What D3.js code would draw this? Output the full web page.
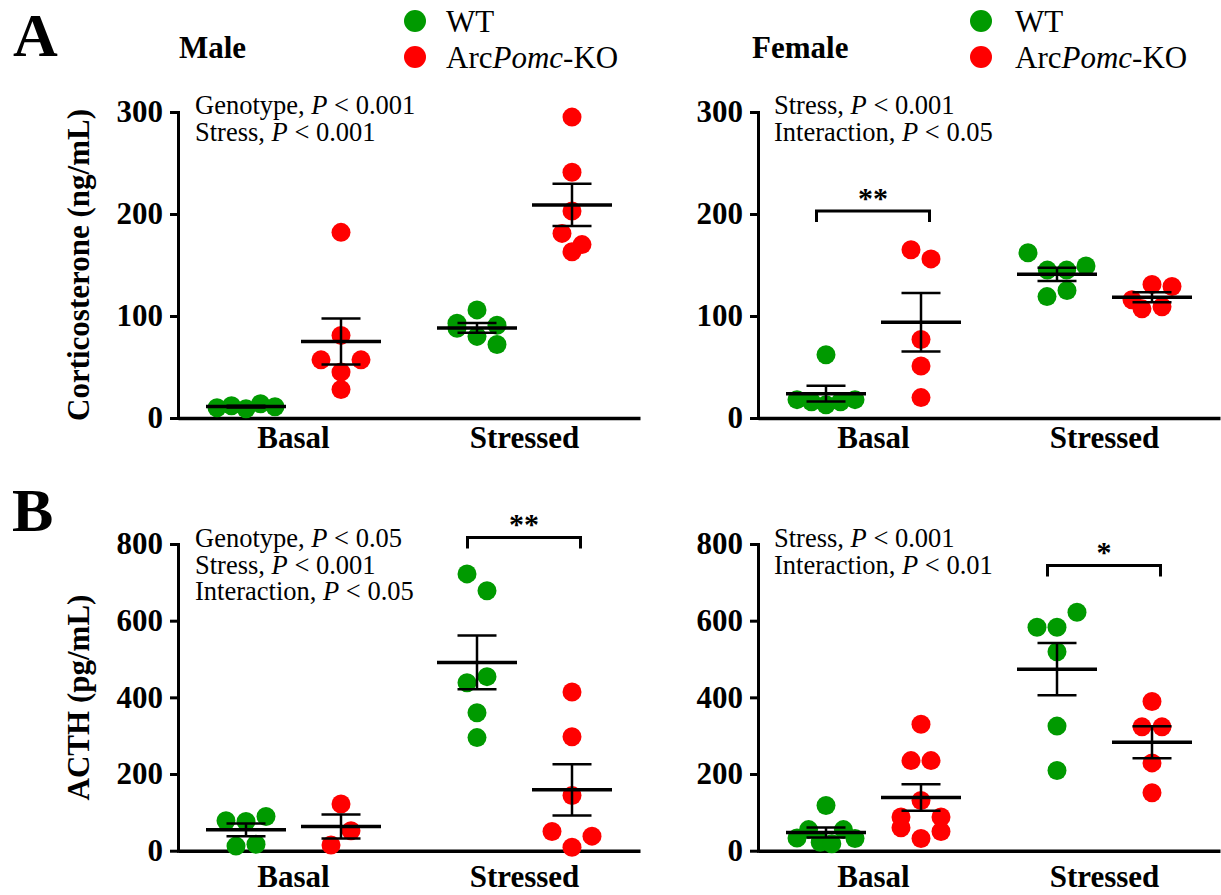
<!DOCTYPE html>
<html>
<head>
<meta charset="utf-8">
<script src="https://cdn.jsdelivr.net/npm/d3@7"></script>
<style>
  body { margin: 0; background: #fff; }
  svg { display: block; font-family: "Liberation Serif", "Times New Roman", serif; }
</style>
</head>
<body>
<div id="chart"></div>
<script>
// groups on the x axis
const categories = ['Basal', 'Stressed'];
const genotypes = ['WT', 'KO'];

// corticosterone (ng/mL), [basal, stressed]
const cortMaleWT = [[10, 12, 9, 14, 11], [93, 88, 106, 80, 91, 72]];
const cortMaleKO = [[182, 81, 57, 45, 57, 28], [295, 241, 203, 181, 163, 170]];
const cortFemaleWT = [[62, 18, 16, 13, 16, 18], [162, 145, 145, 149, 119, 125]];
const cortFemaleKO = [[165, 156, 77, 51, 20], [116, 131, 129, 107, 109]];

// ACTH (pg/mL), [basal, stressed]
const acthMaleWT = [[78, 76, 89, 12, 17], [722, 678, 438, 454, 360, 295]];
const acthMaleKO = [[122, 15, 52], [414, 297, 144, 50, 9, 38]];
const acthFemaleWT = [[118, 33, 55, 22, 18, 55, 32], [583, 583, 622, 519, 325, 209]];
const acthFemaleKO = [[330, 235, 235, 88, 131, 88, 60, 32, 50], [389, 323, 323, 229, 151]];

// axis ticks
const cortTicks = [0, 100, 200, 300];
const acthTicks = [0, 200, 400, 600, 800];

// two-way ANOVA notes: [effect, p threshold]
const notesCortMale = [['Genotype', '0.001'], ['Stress', '0.001']];
const notesCortFemale = [['Stress', '0.001'], ['Interaction', '0.05']];
const notesActhMale = [['Genotype', '0.05'], ['Stress', '0.001'], ['Interaction', '0.05']];
const notesActhFemale = [['Stress', '0.001'], ['Interaction', '0.01']];

// post-hoc brackets: [category, value, label]
const bracketCortFemale = [['Basal', 203, '**']];
const bracketActhMale = [['Stressed', 817, '**']];
const bracketActhFemale = [['Stressed', 744, '*']];

const colors = { WT: '#009a00', KO: '#ff0000' };
const R = 9.5;

const svg = d3.select('#chart').append('svg')
  .attr('width', 1221)
  .attr('height', 895);

const panels = [
  { wt: cortMaleWT, ko: cortMaleKO, ticks: cortTicks, x0: 178, x1: 640, top: 112, bot: 418, gap: 8, notes: notesCortMale, noteX: 195, noteY: 114, brackets: [] },
  { wt: cortFemaleWT, ko: cortFemaleKO, ticks: cortTicks, x0: 758, x1: 1220, top: 112, bot: 418, gap: 8, notes: notesCortFemale, noteX: 774, noteY: 114, brackets: bracketCortFemale },
  { wt: acthMaleWT, ko: acthMaleKO, ticks: acthTicks, x0: 178, x1: 640, top: 544, bot: 850.7, gap: 14, notes: notesActhMale, noteX: 195, noteY: 547, brackets: bracketActhMale },
  { wt: acthFemaleWT, ko: acthFemaleKO, ticks: acthTicks, x0: 758, x1: 1220, top: 544, bot: 850.7, gap: 14, notes: notesActhFemale, noteX: 774, noteY: 547, brackets: bracketActhFemale }
];

// spread points of one column into rows (Prism-like scatter)
const swarm = (vals, y, cx) => {
  const order = d3.range(vals.length).sort((a, b) => vals[b] - vals[a]);
  const rows = [];
  let cur = null;
  order.forEach(i => {
    const py = y(vals[i]);
    if (cur && py - cur.y0 < 18) cur.items.push(i);
    else { cur = { y0: py, items: [i] }; rows.push(cur); }
  });
  const out = [];
  rows.forEach(r => {
    r.items.sort((a, b) => a - b);
    const n = r.items.length;
    const s = n > 1 ? Math.min(20, 58 / (n - 1)) : 0;
    r.items.forEach((i, k) => out.push({ x: cx + (k - (n - 1) / 2) * s, y: y(vals[i]) }));
  });
  return out;
};

const sem = v => d3.deviation(v) / Math.sqrt(v.length);

panels.forEach(p => {
  const x = d3.scaleBand().domain(categories).range([p.x0, p.x1]).padding(0);
  const off = d3.scalePoint().domain(genotypes).range([-47.5, 47.5]);
  const y = d3.scaleLinear().domain([0, d3.max(p.ticks)]).range([p.bot, p.top]);
  const g = svg.append('g');

  // y axis
  const ya = g.append('g')
    .attr('transform', `translate(${p.x0},0)`)
    .call(d3.axisLeft(y).tickValues(p.ticks).tickSize(8).tickPadding(7).tickSizeOuter(0).tickFormat(d3.format('d')))
    .attr('font-family', null)
    .attr('font-size', 31)
    .attr('font-weight', 'bold');
  ya.select('.domain').attr('stroke-width', 3).attr('stroke-linecap', 'square');
  ya.selectAll('.tick line').attr('stroke-width', 3);

  // x axis
  const xa = g.append('g')
    .attr('transform', `translate(0,${p.bot})`)
    .call(d3.axisBottom(x).tickSize(0).tickPadding(p.gap).tickSizeOuter(0))
    .attr('font-family', null)
    .attr('font-size', 31)
    .attr('font-weight', 'bold');
  xa.select('.domain').attr('stroke-width', 3.5);

  categories.forEach((c, ci) => {
    [['WT', p.wt[ci]], ['KO', p.ko[ci]]].forEach(([geno, vals]) => {
      const cx = x(c) + x.bandwidth() / 2 + off(geno);
      g.append('g').selectAll('circle')
        .data(swarm(vals, y, cx))
        .join('circle')
        .attr('cx', d => d.x)
        .attr('cy', d => d.y)
        .attr('r', R)
        .attr('fill', colors[geno]);

      const m = d3.mean(vals), e = sem(vals);
      const bars = g.append('g').attr('stroke', '#000');
      bars.append('line')
        .attr('x1', cx - 40).attr('x2', cx + 40)
        .attr('y1', y(m)).attr('y2', y(m))
        .attr('stroke-width', 3.5);
      bars.append('line')
        .attr('x1', cx).attr('x2', cx)
        .attr('y1', y(m + e)).attr('y2', y(m - e))
        .attr('stroke-width', 2.5);
      [m + e, m - e].forEach(v => bars.append('line')
        .attr('x1', cx - 19.5).attr('x2', cx + 19.5)
        .attr('y1', y(v)).attr('y2', y(v))
        .attr('stroke-width', 2.5));
    });
  });

  // significance brackets
  p.brackets.forEach(([c, v, label]) => {
    const cx = x(c) + x.bandwidth() / 2;
    const xl = cx + off('WT') - 9.5, xr = cx + off('KO') + 8.5, yy = y(v);
    g.append('path')
      .attr('d', `M${xl},${yy + 11}V${yy}H${xr}V${yy + 11}`)
      .attr('fill', 'none')
      .attr('stroke', '#000')
      .attr('stroke-width', 3);
    g.append('text')
      .attr('x', (xl + xr) / 2)
      .attr('y', yy - 3)
      .attr('text-anchor', 'middle')
      .attr('font-size', 30)
      .attr('font-weight', 'bold')
      .text(label);
  });

  // ANOVA notes
  p.notes.forEach(([eff, pv], i) => {
    const t = g.append('text')
      .attr('x', p.noteX)
      .attr('y', p.noteY + i * 26.5)
      .attr('font-size', 26.5);
    t.append('tspan').text(`${eff}, `);
    t.append('tspan').attr('font-style', 'italic').text('P');
    t.append('tspan').text(` < ${pv}`);
  });
});

// y axis titles
[['Corticosterone (ng/mL)', 265], ['ACTH (pg/mL)', 697.5]].forEach(([t, cy]) => {
  svg.append('text')
    .attr('transform', `translate(89,${cy}) rotate(-90)`)
    .attr('text-anchor', 'middle')
    .attr('font-size', 31)
    .attr('font-weight', 'bold')
    .text(t);
});

// panel letters and sex titles
[['A', 13, 56], ['B', 12, 531]].forEach(([t, lx, ly]) => {
  svg.append('text').attr('x', lx).attr('y', ly)
    .attr('font-size', 62).attr('font-weight', 'bold').text(t);
});
[['Male', 179], ['Female', 752]].forEach(([t, lx]) => {
  svg.append('text').attr('x', lx).attr('y', 58)
    .attr('font-size', 31).attr('font-weight', 'bold').text(t);
});

// legends
[[415, 446], [981, 1015]].forEach(([dx, tx]) => {
  const lg = svg.append('g');
  lg.append('circle').attr('cx', dx).attr('cy', 21).attr('r', 11).attr('fill', colors.WT);
  lg.append('circle').attr('cx', dx).attr('cy', 57).attr('r', 11).attr('fill', colors.KO);
  lg.append('text').attr('x', tx).attr('y', 32).attr('font-size', 31).text('WT');
  const t = lg.append('text').attr('x', tx).attr('y', 68).attr('font-size', 31);
  t.append('tspan').text('Arc');
  t.append('tspan').attr('font-style', 'italic').text('Pomc');
  t.append('tspan').text('-KO');
});
</script>
</body>
</html>
